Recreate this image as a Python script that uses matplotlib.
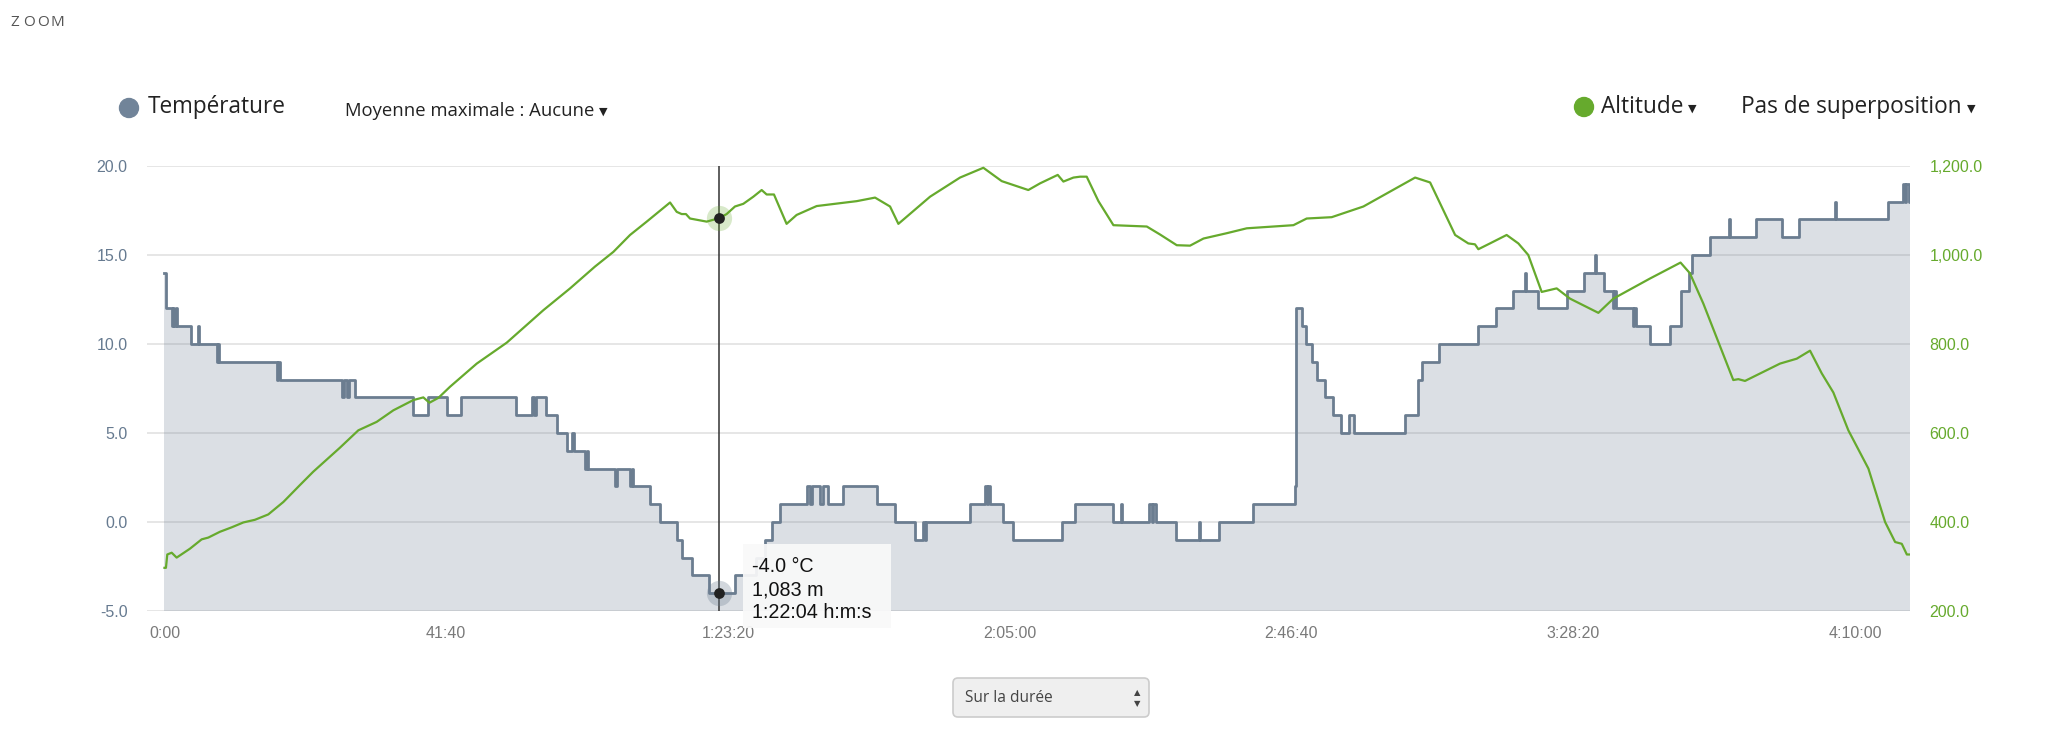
import matplotlib
matplotlib.use('Agg')
import matplotlib.pyplot as plt
from matplotlib.patches import Rectangle, Circle, FancyBboxPatch
from matplotlib.ticker import FuncFormatter, FixedLocator

# temperature (°C), step changes: time in seconds
temp_time = [0, 13, 64, 76, 88, 100, 112, 232, 300, 309, 470, 478, 486, 995, 1010, 1025,
             1572, 1590, 1617, 1635, 1690, 2208, 2341, 2504, 2628, 3119, 3258, 3279, 3297,
             3385, 3480, 3568, 3620, 3635, 3731, 3745, 3761, 3998, 4012, 4131, 4145, 4160,
             4308, 4397, 4545, 4589, 4678, 4834, 5062, 5250, 5330, 5387, 5461, 5698, 5728,
             5742, 5816, 5840, 5890, 6023, 6320, 6482, 6660, 6734, 6745, 6760, 7148, 7281,
             7300, 7310, 7326, 7444, 7533, 7961, 8079, 8413, 8487, 8496, 8739, 8760, 8775,
             8798, 8975, 9179, 9188, 9357, 9661, 10030, 10040, 10090, 10129, 10182, 10229,
             10297, 10371, 10436, 10513, 10558, 11007, 11125, 11155, 11312, 11658, 11815,
             11968, 12072, 12080, 12190, 12447, 12595, 12693, 12700, 12772, 12849, 12858,
             12875, 13027, 13040, 13056, 13180, 13358, 13456, 13530, 13551, 13713, 13885,
             13893, 14119, 14350, 14504, 14823, 14831, 15290, 15423, 15440, 15455, 15475, 15488]
temp_val = [14, 12, 11, 12, 11, 12, 11, 10, 11, 10, 9, 10, 9, 8, 9, 8,
            7, 8, 7, 8, 7, 6, 7, 6, 7, 6, 7, 6, 7,
            6, 5, 4, 5, 4, 3, 4, 3, 2, 3, 2, 3, 2,
            1, 0, -1, -2, -3, -4, -3, -2, -1, 0, 1, 2, 1,
            2, 1, 2, 1, 2, 1, 0, -1, 0, -1, 0, 1, 2,
            1, 2, 1, 0, -1, 0, 1, 0, 1, 0, 1, 0, 1,
            0, -1, 0, -1, 0, 1, 2, 12, 11, 10, 9, 8,
            7, 6, 5, 6, 5, 6, 8, 9, 10, 11, 12,
            13, 14, 13, 12, 13, 14, 15, 14, 13, 12, 13,
            12, 11, 12, 11, 10, 11, 13, 14, 15, 16, 17,
            16, 17, 16, 17, 18, 17, 18, 19, 18, 19, 18, 18]

# altitude (m)
alt_time = [0, 13, 25, 64, 108, 226, 330, 389, 492, 596, 700, 803, 921, 1055, 1202, 1320,
            1557, 1720, 1883, 2031, 2208, 2297, 2351, 2431, 2534, 2771, 3037, 3362, 3599,
            3820, 3983, 4131, 4279, 4486, 4545, 4589, 4627, 4663, 4811, 4924, 4988, 5062,
            5136, 5225, 5299, 5343, 5408, 5520, 5609, 5787, 6142, 6305, 6438, 6512, 6793,
            7059, 7266, 7429, 7665, 7769, 7926, 7976, 8065, 8124, 8183, 8287, 8420, 8716,
            8834, 8982, 9100, 9219, 9426, 9603, 10017, 10135, 10357, 10638, 11097, 11230,
            11452, 11569, 11628, 11658, 11761, 11909, 12013, 12101, 12220, 12353, 12471,
            12723, 12856, 13180, 13452, 13535, 13654, 13920, 13965, 14024, 14335, 14483,
            14601, 14705, 14808, 14941, 15119, 15267, 15356, 15415, 15460, 15488]
alt_val = [297, 297, 327, 331, 320, 340, 361, 365, 378, 388, 399, 405, 417, 445, 483, 513,
           567, 606, 625, 651, 674, 680, 668, 679, 704, 756, 803, 876, 925,
           974, 1007, 1045, 1075, 1118, 1097, 1092, 1092, 1082, 1075, 1083, 1092, 1109,
           1115, 1131, 1146, 1136, 1136, 1070, 1090, 1110, 1121, 1129, 1109, 1070, 1131,
           1174, 1196, 1166, 1146, 1161, 1180, 1165, 1174, 1176, 1176, 1121, 1067, 1064,
           1046, 1022, 1021, 1037, 1049, 1060, 1067, 1082, 1085, 1109, 1174, 1163,
           1045, 1026, 1024, 1013, 1026, 1045, 1026, 1000, 917, 925, 902,
           870, 902, 947, 983, 959, 891, 719, 721, 717, 756, 767,
           785, 734, 691, 606, 520, 400, 355, 351, 327, 327]

x_ticks = [0, 2500, 5000, 7500, 10000, 12500, 15000]
temp_ticks = [-5, 0, 5, 10, 15, 20]
alt_ticks = [200, 400, 600, 800, 1000, 1200]

cursor_time = 4924
cursor_temp = -4.0
cursor_alt = 1083
tooltip_lines = ['-4.0 °C', '1,083 m', '1:22:04 h:m:s']

slate = '#6b7d90'
green = '#66aa2d'

plt.rcParams['font.family'] = ['Liberation Sans', 'DejaVu Sans']
ui_font = ['Open Sans', 'DejaVu Sans']

W, H = 2048, 756
fig = plt.figure(figsize=(W / 100, H / 100), dpi=100)
fig.patch.set_facecolor('white')

ax = fig.add_axes([147 / W, 1 - 611 / H, (1910 - 147) / W, (611 - 166) / H])
ax2 = ax.twinx()


def fmt_time(v, pos):
    v = int(round(v))
    h, r = divmod(v, 3600)
    m, s = divmod(r, 60)
    return f'{h}:{m:02d}:{s:02d}' if h else f'{m}:{s:02d}'


ax.set_xlim(-155, 15488)
ax.set_ylim(-5, 20)
ax2.set_ylim(200, 1200)

ax.yaxis.grid(True, color='#e4e4e4', lw=1.3)
ax.set_axisbelow(True)
for a in (ax, ax2):
    for s in a.spines.values():
        s.set_visible(False)

ax.xaxis.set_major_locator(FixedLocator(x_ticks))
ax.xaxis.set_major_formatter(FuncFormatter(fmt_time))
ax.yaxis.set_major_locator(FixedLocator(temp_ticks))
ax.yaxis.set_major_formatter(FuncFormatter(lambda v, p: f'{v:.1f}'))
ax2.yaxis.set_major_locator(FixedLocator(alt_ticks))
ax2.yaxis.set_major_formatter(FuncFormatter(lambda v, p: f'{v:,.1f}'))

ax.tick_params(axis='x', length=0, pad=11, labelcolor='#7a7a7a', labelsize=11.5)
ax.tick_params(axis='y', length=0, pad=14, labelcolor='#667a90', labelsize=11.5)
ax2.tick_params(axis='y', length=0, pad=14, labelcolor=green, labelsize=11.5)

# temperature area
ax.fill_between(temp_time, temp_val, -5, step='post', color=slate, alpha=0.24, lw=0)
ax.step(temp_time, temp_val, where='post', color=slate, lw=2.0)

# crosshair + temperature point
ax.axvline(cursor_time, color='#333333', lw=1.1, zorder=4)
ax.scatter([cursor_time], [cursor_temp], s=330, color=slate, alpha=0.3, lw=0, zorder=5)
ax.scatter([cursor_time], [cursor_temp], s=60, color='#222222', lw=0, zorder=6)

# altitude
ax2.plot(alt_time, alt_val, color=green, lw=1.6)
ax2.scatter([cursor_time], [cursor_alt], s=330, color=green, alpha=0.25, lw=0, zorder=5)
ax2.scatter([cursor_time], [cursor_alt], s=60, color='#222222', lw=0, zorder=6)

# overlay in pixel coordinates for header, tooltip and selector
ov = fig.add_axes([0, 0, 1, 1])
ov.set_xlim(0, W)
ov.set_ylim(H, 0)
ov.axis('off')

for i, ch in enumerate('ZOOM'):
    ov.text(10 + i * 13.5, 23, ch, fontsize=11, color='#555555', va='center', ha='left',
            family=ui_font)

ov.add_patch(Circle((129, 108), 9.5, color='#718499'))
ov.text(148, 107, 'Température', fontsize=16.3, color='#222222', va='center', family=ui_font)
ov.text(345, 111, 'Moyenne maximale : Aucune', fontsize=13.3, color='#222222', va='center',
        family=ui_font)
ov.text(599, 112, '▼', fontsize=8, color='#222222', va='center', family='DejaVu Sans')

ov.add_patch(Circle((1584, 107), 9.5, color=green))
ov.text(1601, 107, 'Altitude', fontsize=16.3, color='#222222', va='center', family=ui_font)
ov.text(1688, 109, '▼', fontsize=8, color='#222222', va='center', family='DejaVu Sans')
ov.text(1741, 107, 'Pas de superposition', fontsize=16.3, color='#222222', va='center',
        family=ui_font)
ov.text(1967, 109, '▼', fontsize=8, color='#222222', va='center', family='DejaVu Sans')

# tooltip
ov.add_patch(Rectangle((743, 544), 148, 84, facecolor='#f9f9f9', alpha=0.93, lw=0))
for i, line in enumerate(tooltip_lines):
    ov.text(752, 567 + i * 23, line, fontsize=14.2, color='#111111', va='center')

# selector at the bottom
ov.add_patch(FancyBboxPatch((953, 678), 196, 39, boxstyle='round,pad=0,rounding_size=5',
                            facecolor='#efefef', edgecolor='#cccccc', lw=1.2))
ov.text(965, 698, 'Sur la durée', fontsize=11.2, color='#444444', va='center', family=ui_font)
ov.text(1137, 693, '▲', fontsize=6, color='#444444', va='center', ha='center',
        family='DejaVu Sans')
ov.text(1137, 704, '▼', fontsize=6, color='#444444', va='center', ha='center',
        family='DejaVu Sans')

fig.savefig('out.png', dpi=100)
